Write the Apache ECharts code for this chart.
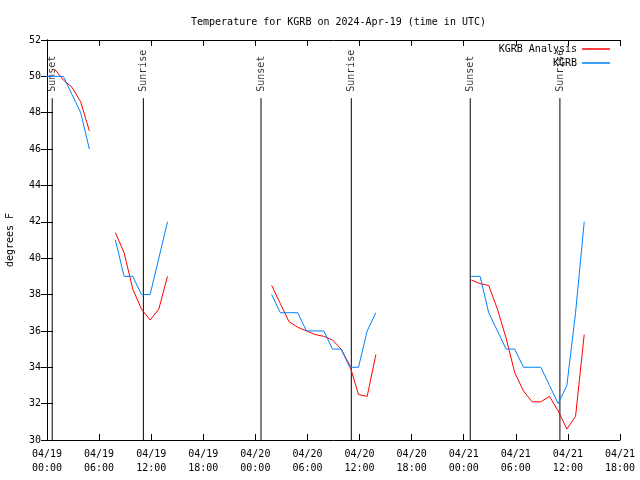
<!DOCTYPE html>
<html><head><meta charset="utf-8">
<script src="https://cdn.jsdelivr.net/npm/echarts@6/dist/echarts.min.js"></script>
<style>html,body{margin:0;padding:0;background:#fff}#c{width:640px;height:480px}</style>
</head><body><div id="c"></div>
<script>
// time in hours since 04/19 00:00 UTC
const xTickLabels = ['04/19\n00:00','04/19\n06:00','04/19\n12:00','04/19\n18:00',
  '04/20\n00:00','04/20\n06:00','04/20\n12:00','04/20\n18:00',
  '04/21\n00:00','04/21\n06:00','04/21\n12:00','04/21\n18:00'];
const xMin = 0, xMax = 66, xStep = 6;
const yMin = 30, yMax = 52, yStep = 2;

const anaHours = [0.88,1.88,2.88,3.88,4.88, 6,
  7.88,8.88,9.88,10.88,11.88,12.88,13.88, 20,
  25.88,26.88,27.88,28.88,29.88,30.88,31.88,32.88,33.88,34.88,35.88,36.88,37.88, 44,
  48.88,49.88,50.88,51.88,52.88,53.88,54.88,55.88,56.88,57.88,58.88,59.88,60.88,61.88];
const anaTemps = [50.4,49.8,49.4,48.6,47.0, null,
  41.4,40.3,38.3,37.2,36.6,37.2,39.0, null,
  38.5,37.5,36.5,36.2,36.0,35.8,35.7,35.5,35.0,34.1,32.5,32.4,34.7, null,
  38.8,38.6,38.5,37.2,35.6,33.7,32.7,32.1,32.1,32.4,31.6,30.6,31.3,35.8];

const obsHours = [-0.12,0.88,1.88,2.88,3.88,4.88, 6,
  7.88,8.88,9.88,10.88,11.88,12.88,13.88, 20,
  25.88,26.88,27.88,28.88,29.88,30.88,31.88,32.88,33.88,34.88,35.88,36.88,37.88, 44,
  48.88,49.88,50.88,51.88,52.88,53.88,54.88,55.88,56.88,57.88,58.88,59.88,60.88,61.88];
const obsTemps = [50,50,50,49,48,46, null,
  41,39,39,38,38,40,42, null,
  38,37,37,37,36,36,36,35,35,34,34,36,37, null,
  39,39,37,36,35,35,34,34,34,33,32,33,37,42];

const sunsetHours = [0.6, 24.65, 48.75];
const sunriseHours = [11.1, 35.05, 59.08];
const eventLineTop = 48.8;
const eventLabelBase = 49.15;

const FONT = 'DejaVu Sans Mono';
const chart = echarts.init(document.getElementById('c'), null, {renderer:'canvas'});

function pairs(xs, ys){ return xs.map((x,i)=>[x, ys[i]==null ? null : ys[i]]); }

const series = [];
const events = [];
sunsetHours.forEach(h=>events.push({h:h, name:'Sunset'}));
sunriseHours.forEach(h=>events.push({h:h, name:'Sunrise'}));
events.forEach(e=>{
  series.push({type:'line', data:[[e.h, yMin],[e.h, eventLineTop]], symbol:'none', silent:true,
    lineStyle:{color:'#000', width:1}, z:1});
});
series.push({type:'scatter', symbolSize:0, silent:true,
  data: events.map(e=>({value:[e.h, eventLabelBase], name:e.name})),
  label:{show:true, formatter:'{b}', position:'inside', rotate:90, align:'left', verticalAlign:'middle',
    color:'#000', fontFamily:FONT, fontSize:10}});
series.push({name:'KGRB Analysis', type:'line', data:pairs(anaHours, anaTemps), symbol:'none',
  connectNulls:false, lineStyle:{color:'#ff0000', width:1}, itemStyle:{color:'#ff0000'}, z:3});
series.push({name:'KGRB', type:'line', data:pairs(obsHours, obsTemps), symbol:'none',
  connectNulls:false, lineStyle:{color:'#0080ff', width:1}, itemStyle:{color:'#0080ff'}, z:4});

const tickStyle = {show:true, inside:true, length:6, lineStyle:{color:'#000'}};
const lineStyle = {show:true, lineStyle:{color:'#000', width:1}};

chart.setOption({
  animation:false,
  backgroundColor:'#fff',
  title:{text:'Temperature for KGRB on 2024-Apr-19 (time in UTC)', left:186, top:12,
    textStyle:{fontFamily:FONT, fontSize:10, fontWeight:'normal', color:'#000'}},
  grid:{left:47, right:20, top:40, bottom:40, containLabel:false, outerBoundsMode:'none'},
  legend:[
    {data:['KGRB Analysis'], right:25, top:39, align:'right', icon:'rect', itemWidth:28, itemHeight:1.5,
      textStyle:{fontFamily:FONT, fontSize:10, color:'#000'}, selectedMode:false},
    {data:['KGRB'], right:25, top:53, align:'right', icon:'rect', itemWidth:28, itemHeight:1.5,
      textStyle:{fontFamily:FONT, fontSize:10, color:'#000'}, selectedMode:false}
  ],
  xAxis:[
    {type:'value', min:xMin, max:xMax, interval:xStep, position:'bottom',
      axisLine:lineStyle, axisTick:tickStyle, splitLine:{show:false},
      axisLabel:{show:true, margin:7, lineHeight:14, color:'#000', fontFamily:FONT, fontSize:10,
        formatter:v=>xTickLabels[Math.round((v-xMin)/xStep)] || ''}},
    {type:'value', min:xMin, max:xMax, interval:xStep, position:'top',
      axisLine:lineStyle, axisTick:tickStyle, splitLine:{show:false}, axisLabel:{show:false}}
  ],
  yAxis:[
    {type:'value', min:yMin, max:yMax, interval:yStep, position:'left',
      name:'degrees F', nameLocation:'middle', nameGap:32, nameRotate:90,
      nameTextStyle:{fontFamily:FONT, fontSize:10, color:'#000'},
      axisLine:lineStyle, axisTick:tickStyle, splitLine:{show:false},
      axisLabel:{margin:6, color:'#000', fontFamily:FONT, fontSize:10}},
    {type:'value', min:yMin, max:yMax, interval:yStep, position:'right',
      axisLine:lineStyle, axisTick:tickStyle, splitLine:{show:false}, axisLabel:{show:false}}
  ],
  series: series
});
</script></body></html>
